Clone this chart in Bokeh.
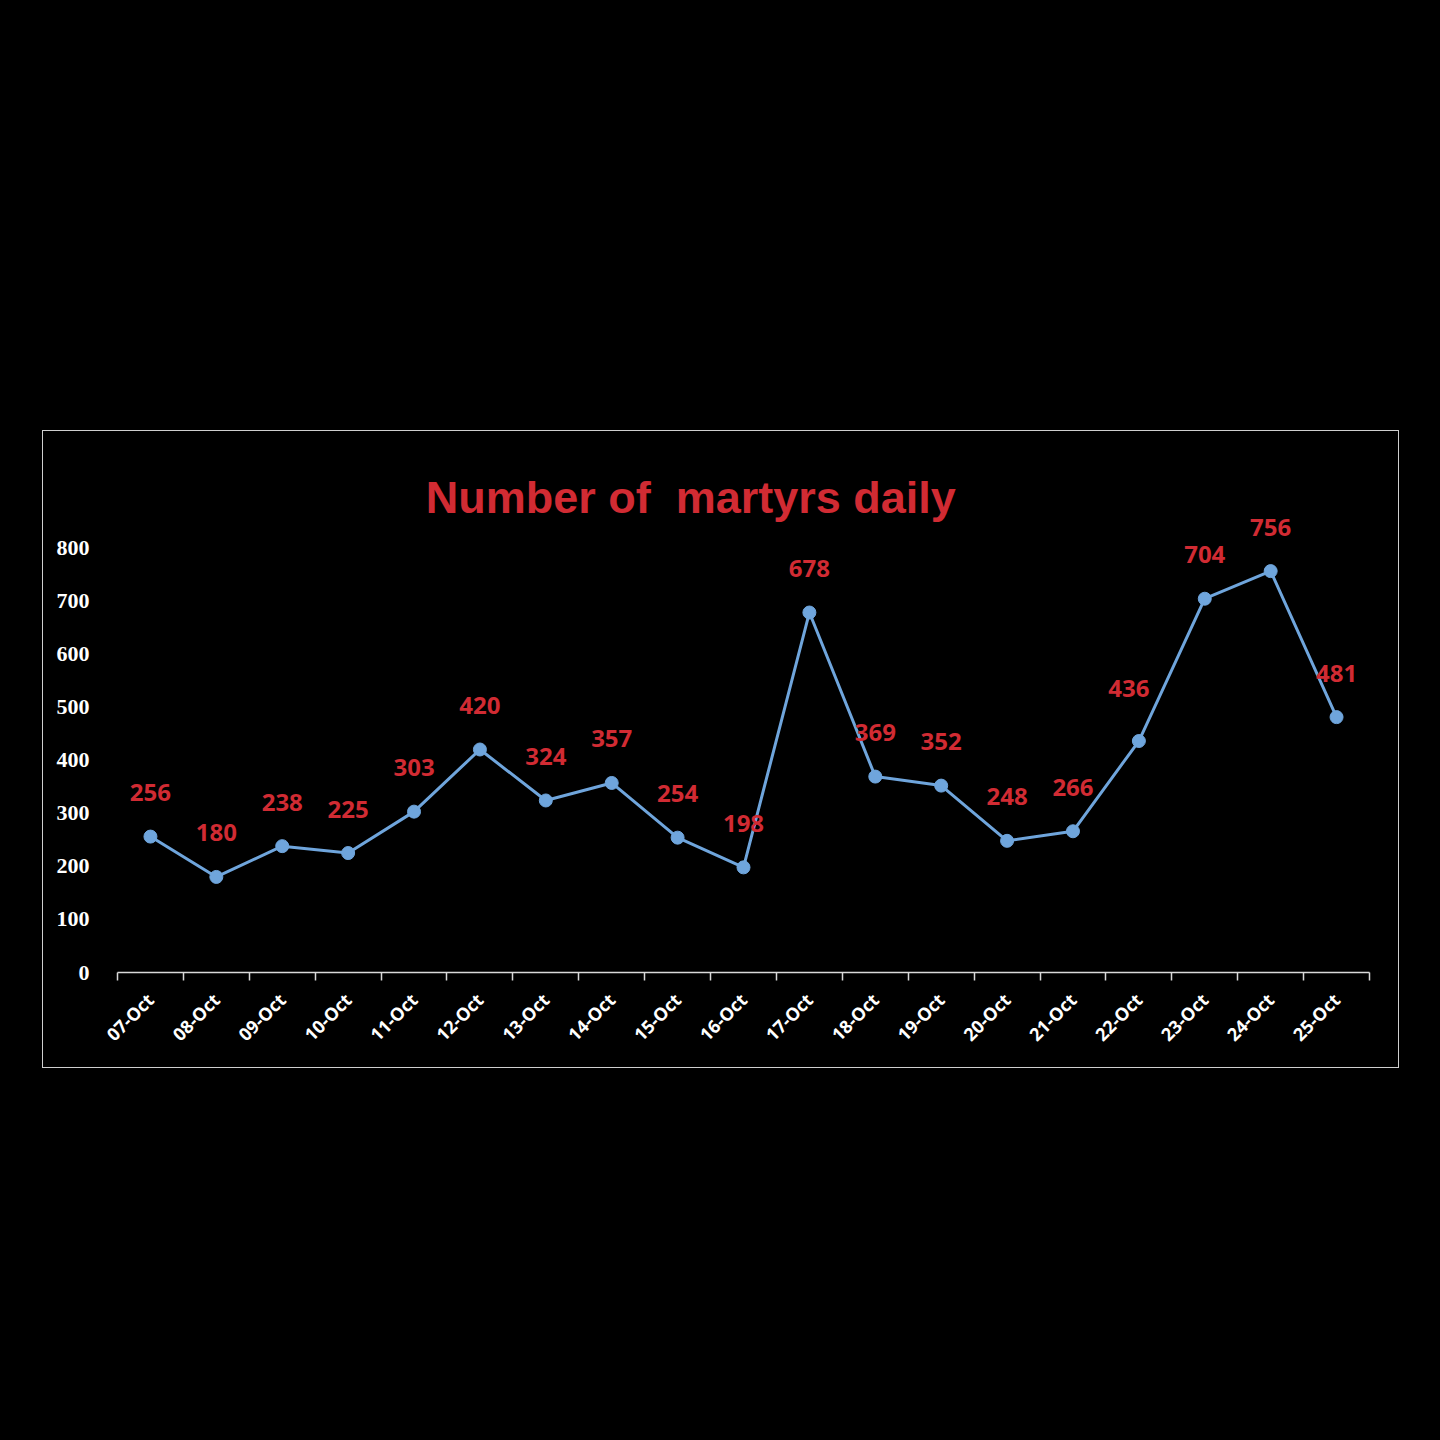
from bokeh.plotting import figure
from bokeh.models import ColumnDataSource, Range1d, FixedTicker, Label
from bokeh.core.properties import value
from bokeh.embed import file_html
from bokeh.resources import INLINE
import math

dates = ["07-Oct", "08-Oct", "09-Oct", "10-Oct", "11-Oct", "12-Oct", "13-Oct",
         "14-Oct", "15-Oct", "16-Oct", "17-Oct", "18-Oct", "19-Oct", "20-Oct",
         "21-Oct", "22-Oct", "23-Oct", "24-Oct", "25-Oct"]
martyrs = [256, 180, 238, 225, 303, 420, 324, 357, 254, 198, 678, 369, 352,
           248, 266, 436, 704, 756, 481]
y_ticks = [0, 100, 200, 300, 400, 500, 600, 700, 800]
title_text = "Number of  martyrs daily"

RED = "#d12b33"
BLUE = "#6fa5dc"

idx = list(range(len(dates)))
lab_xoff = [0] * len(dates)
lab_yoff = [-44] * len(dates)
lab_xoff[15] = -10
lab_yoff[15] = -53

src = ColumnDataSource(dict(x=idx, y=martyrs, lab=[str(v) for v in martyrs],
                            xo=lab_xoff, yo=lab_yoff))

p = figure(width=1357, height=638, output_backend="svg", toolbar_location=None,
           x_range=Range1d(-0.5, len(dates) - 0.5), y_range=Range1d(0, 1002),
           min_border_left=74, min_border_right=31, min_border_top=9,
           min_border_bottom=97)
p.margin = (430, 0, 0, 42)
p.styles = {"border": "1.5px solid #cfcfcf"}
p.background_fill_color = "black"
p.border_fill_color = "black"
p.outline_line_color = None
p.grid.visible = False

# y axis
ya = p.yaxis[0]
ya.ticker = FixedTicker(ticks=y_ticks)
ya.axis_line_color = None
ya.major_tick_line_color = None
ya.minor_tick_line_color = None
ya.major_label_text_color = "white"
ya.major_label_text_font = "Liberation Serif"
ya.major_label_text_font_style = "bold"
ya.major_label_text_font_size = "22px"
ya.major_label_text_baseline = "alphabetic"
ya.major_label_standoff = 22

# x axis
xa = p.xaxis[0]
xa.ticker = FixedTicker(ticks=idx, minor_ticks=[i - 0.5 for i in range(len(dates) + 1)])
xa.major_label_overrides = {i: d for i, d in zip(idx, dates)}
xa.axis_line_color = "#d9d9d9"
xa.axis_line_width = 1.5
xa.major_tick_line_color = None
xa.minor_tick_line_color = "#d9d9d9"
xa.minor_tick_line_width = 1.5
xa.minor_tick_out = 8
xa.minor_tick_in = 0
xa.major_label_orientation = math.pi / 4
xa.major_label_text_color = "white"
xa.major_label_text_font = "Open Sans"
xa.major_label_text_font_style = "bold"
xa.major_label_text_font_size = "18px"
xa.major_label_standoff = 16

p.line("x", "y", source=src, line_color=BLUE, line_width=3)
p.scatter("x", "y", source=src, size=13, fill_color=BLUE, line_color=BLUE)
p.text("x", "y", text="lab", source=src, x_offset="xo", y_offset="yo",
       text_color=RED, text_font=value("Open Sans"), text_font_size="24px",
       text_font_style="bold", text_align="center", text_baseline="middle")

p.add_layout(Label(x=8.2, y=894, text=title_text.replace("  ", " \u00a0"),
                   text_color=RED,
                   text_font="Liberation Sans", text_font_style="bold",
                   text_font_size="45px", text_align="center",
                   text_baseline="middle"))

html = file_html(p, INLINE)
html = html.replace("</head>", "<style>html,body{background:#000;}</style></head>", 1)
open("out.html", "w").write(html)
